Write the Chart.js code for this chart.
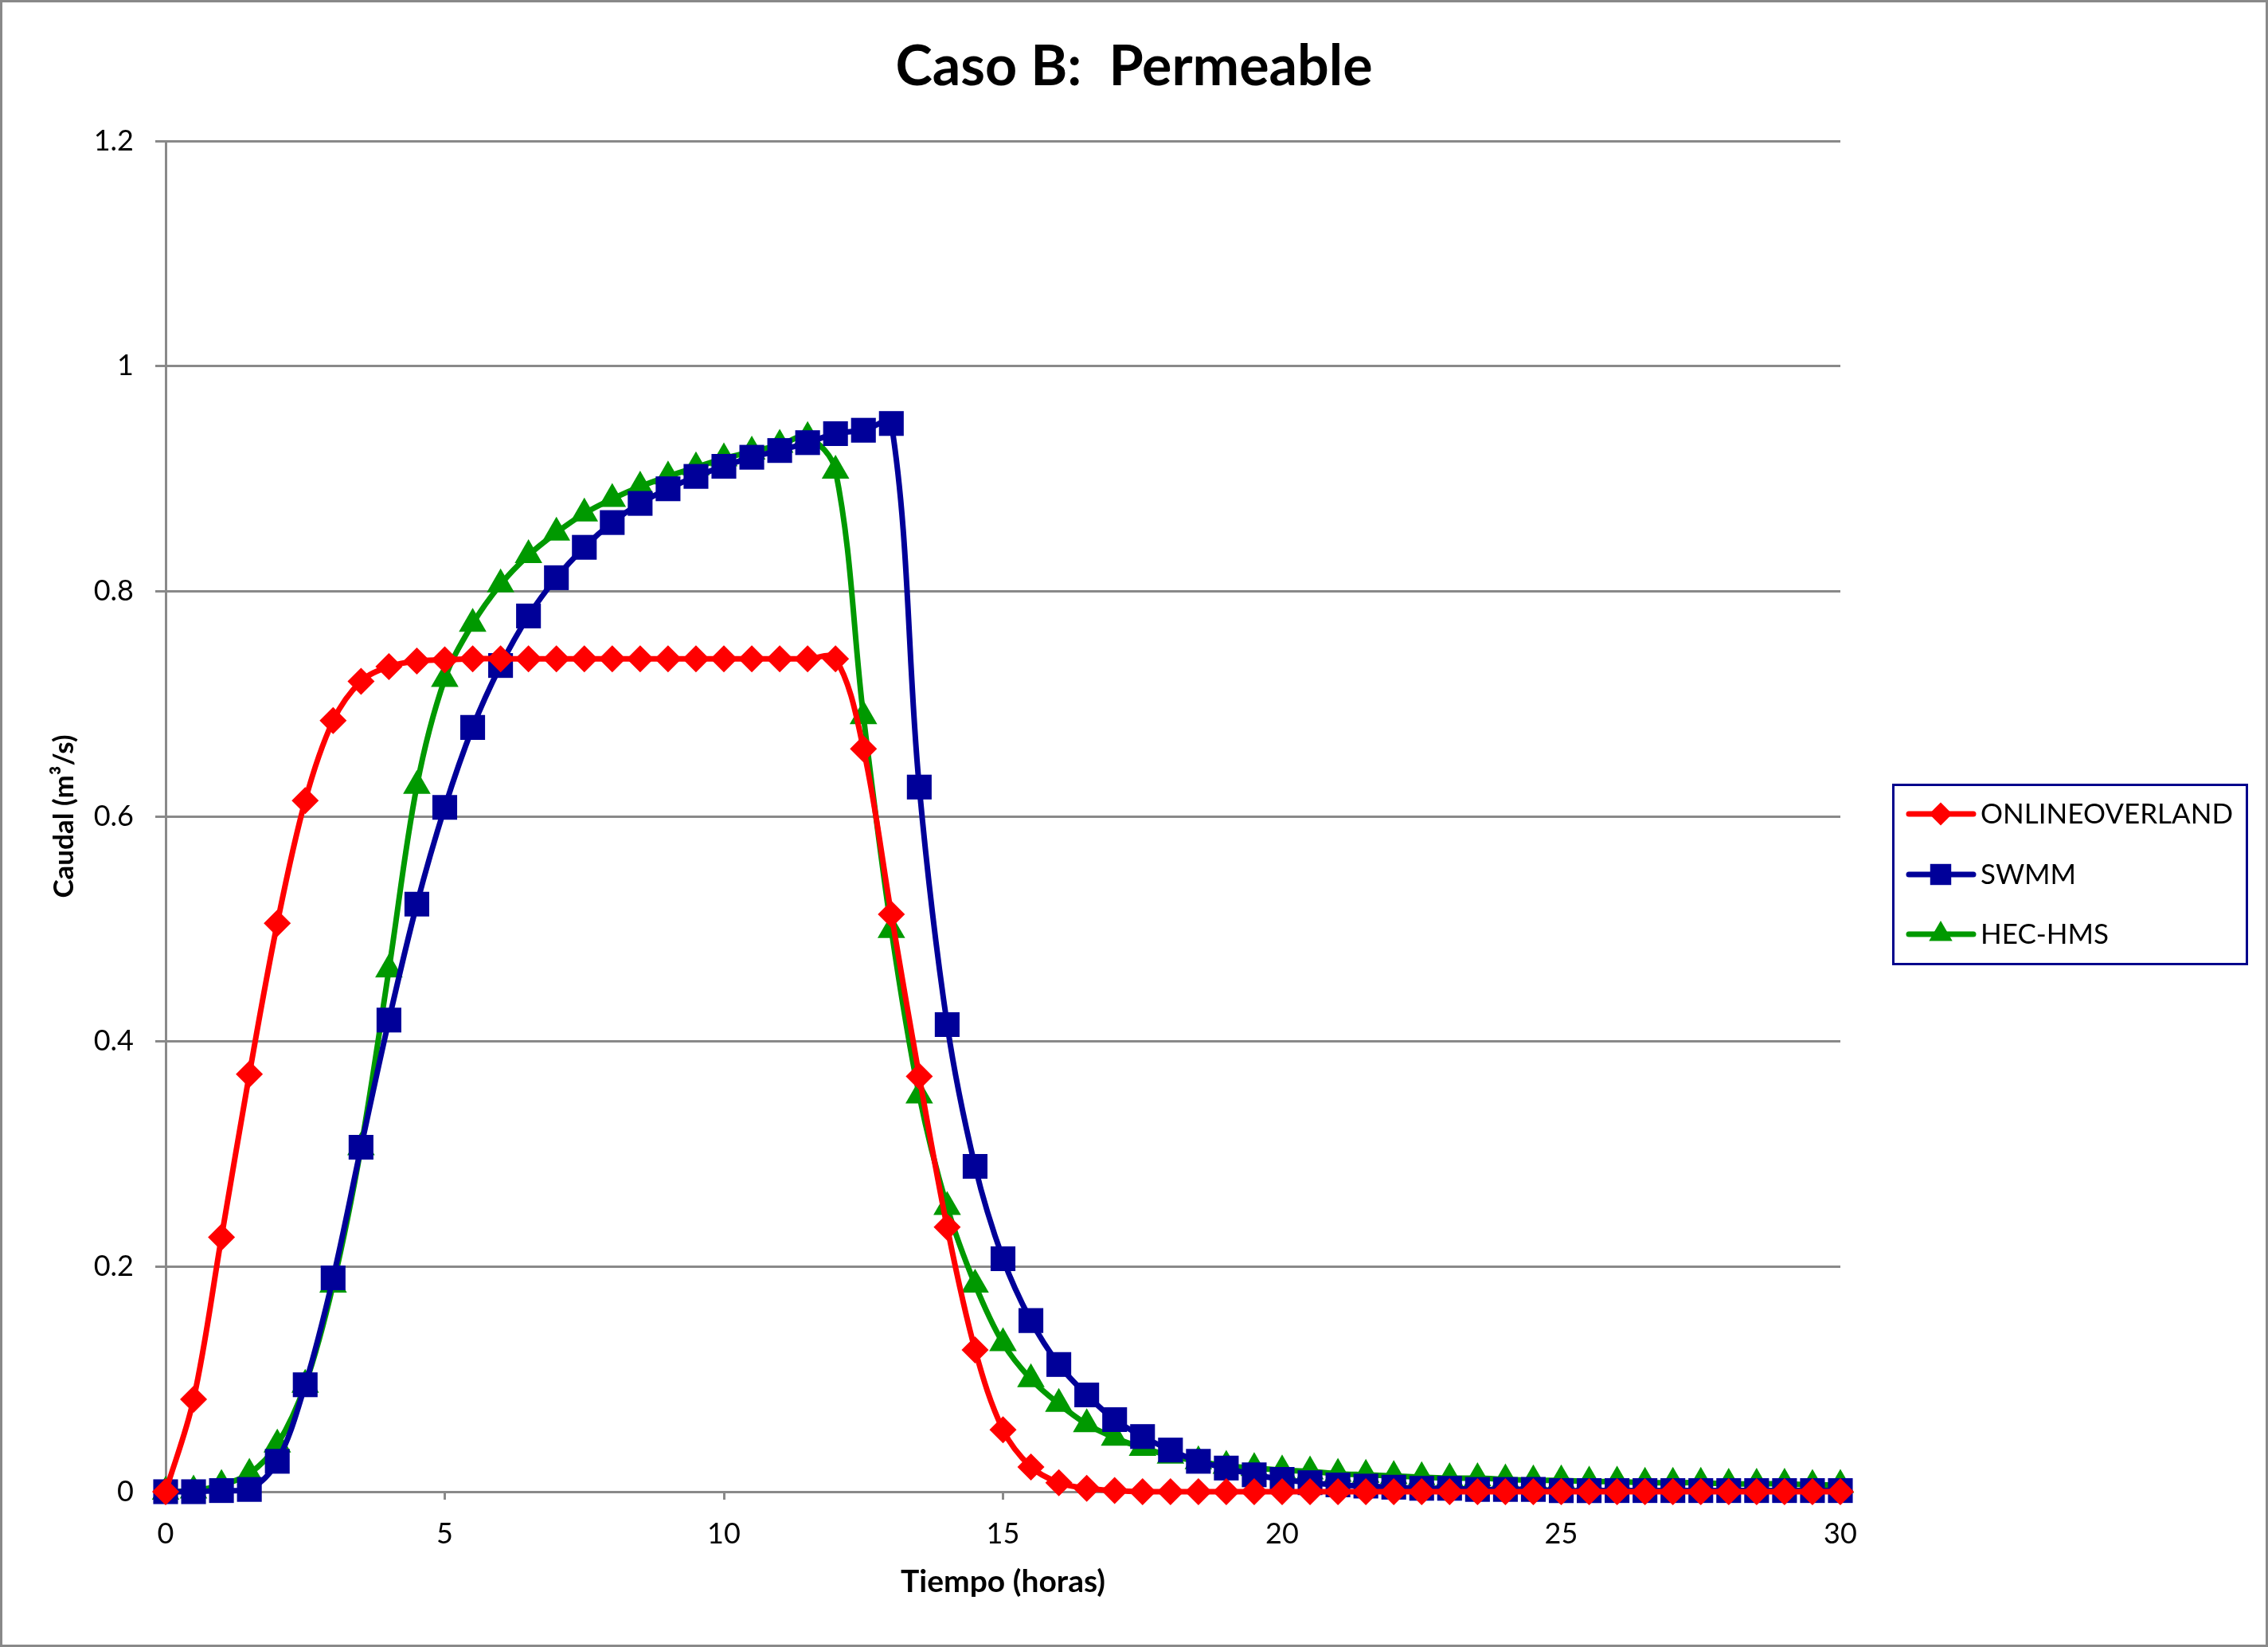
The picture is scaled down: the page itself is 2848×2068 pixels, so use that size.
<!DOCTYPE html>
<html>
<head>
<meta charset="utf-8">
<script src="https://cdn.jsdelivr.net/npm/chart.js@4"></script>
<style>
  html, body { margin: 0; padding: 0; background: #fff; }
  #wrap { width: 2848px; height: 2068px; }
</style>
</head>
<body>
<div id="wrap"><canvas id="caudal" width="2848" height="2068"></canvas></div>
<script>
const titulo = "Caso B:  Permeable";
const horas = [0,0.5,1,1.5,2,2.5,3,3.5,4,4.5,5,5.5,6,6.5,7,7.5,8,8.5,9,9.5,
  10,10.5,11,11.5,12,12.5,13,13.5,14,14.5,15,15.5,16,16.5,17,17.5,18,18.5,19,19.5,
  20,20.5,21,21.5,22,22.5,23,23.5,24,24.5,25,25.5,26,26.5,27,27.5,28,28.5,29,29.5,30];

const onlineOverland = [0,0.082,0.226,0.371,0.505,0.614,0.685,0.72,0.733,0.738,
  0.739,0.74,0.74,0.74,0.74,0.74,0.74,0.74,0.74,0.74,
  0.74,0.74,0.74,0.74,0.74,0.66,0.513,0.369,0.235,0.126,
  0.055,0.022,0.008,0.003,0.001,0,0,0,0,0,
  0,0,0,0,0,0,0,0,0,0,
  0,0,0,0,0,0,0,0,0,0,0];

const swmm = [0,0,0.001,0.002,0.027,0.095,0.19,0.306,0.419,0.522,
  0.608,0.679,0.734,0.778,0.812,0.839,0.861,0.878,0.891,0.902,
  0.911,0.919,0.925,0.932,0.94,0.943,0.949,0.626,0.415,0.289,
  0.207,0.152,0.113,0.086,0.064,0.049,0.037,0.027,0.021,0.015,
  0.011,0.008,0.006,0.005,0.004,0.003,0.003,0.002,0.002,0.002,
  0.001,0.001,0.001,0.001,0.001,0.001,0.001,0.001,0.001,0.001,0.001];

const hecHms = [0,0.001,0.006,0.016,0.042,0.095,0.184,0.306,0.464,0.627,
  0.722,0.771,0.806,0.832,0.852,0.869,0.882,0.893,0.902,0.91,
  0.918,0.924,0.93,0.937,0.907,0.689,0.499,0.352,0.253,0.184,
  0.132,0.1,0.078,0.06,0.048,0.039,0.032,0.027,0.023,0.021,
  0.019,0.018,0.016,0.015,0.014,0.013,0.012,0.012,0.011,0.01,
  0.01,0.009,0.009,0.008,0.008,0.008,0.007,0.007,0.007,0.006,0.006];

const series = ["ONLINEOVERLAND","SWMM","HEC-HMS"];
const colores = ["#ff0000","#000099","#009900"];
const marcas = ["rectRot","rect","triangle"];
const radios = [17,22,20];

const FONT = "Lato, 'Open Sans', sans-serif";
const GRIS = "#898989";

function puntos(valores) {
  return horas.map((h, i) => ({x: h, y: valores[i]}));
}

function serie(i, valores) {
  return {
    label: series[i],
    data: puntos(valores),
    borderColor: colores[i],
    backgroundColor: colores[i],
    borderWidth: 7,
    pointStyle: marcas[i],
    pointRadius: radios[i],
    pointBorderWidth: 0,
    pointBackgroundColor: colores[i],
    tension: 0.35,
    clip: false
  };
}

// titulo, marco exterior y leyenda con recuadro
const extras = {
  id: "extras",
  afterDraw(chart) {
    const ctx = chart.ctx;
    ctx.save();
    ctx.strokeStyle = GRIS;
    ctx.lineWidth = 3;
    ctx.strokeRect(1.5, 1.5, chart.width - 3, chart.height - 3);

    ctx.fillStyle = "#000";
    ctx.font = "bold 70px " + FONT;
    ctx.textAlign = "center";
    ctx.textBaseline = "middle";
    ctx.fillText(titulo, chart.width / 2, 84);

    ctx.strokeStyle = "#00008c";
    ctx.lineWidth = 3;
    ctx.strokeRect(2377.5, 985.5, 444, 225);
    const filas = [1022, 1098, 1173];
    chart.data.datasets.forEach((ds, i) => {
      const y = filas[i];
      ctx.strokeStyle = ds.borderColor;
      ctx.lineWidth = 7;
      ctx.lineCap = "round";
      ctx.beginPath();
      ctx.moveTo(2397, y);
      ctx.lineTo(2478, y);
      ctx.stroke();
      ctx.fillStyle = ds.borderColor;
      Chart.helpers.drawPoint(ctx, {pointStyle: ds.pointStyle, radius: ds.pointRadius * 0.85, rotation: 0, borderWidth: 0}, 2437, y);
      ctx.fillStyle = "#000";
      ctx.font = "35px " + FONT;
      ctx.textAlign = "left";
      ctx.fillText(ds.label, 2487, y + 1);
    });
    ctx.restore();
  }
};

new Chart("caudal", {
  type: "line",
  data: {
    datasets: [serie(0, onlineOverland), serie(1, swmm), serie(2, hecHms)]
  },
  options: {
    responsive: false,
    animation: false,
    layout: { padding: { left: 0, right: 537, top: 177, bottom: 0 } },
    plugins: {
      legend: { display: false },
      title: { display: false },
      tooltip: { enabled: false }
    },
    scales: {
      x: {
        type: "linear",
        min: 0, max: 30,
        afterFit(scale) { scale.height = 195; },
        grid: { drawOnChartArea: false, drawTicks: true, tickLength: 10, color: GRIS, lineWidth: 3 },
        border: { display: true, color: GRIS, width: 3 },
        ticks: { stepSize: 5, padding: 22, color: "#000", font: { family: FONT, size: 36 } },
        title: {
          display: true, text: "Tiempo (horas)", color: "#000",
          font: { family: FONT, size: 39, weight: "bold" },
          padding: { top: 0, bottom: 58 }
        }
      },
      y: {
        min: 0, max: 1.2,
        afterFit(scale) { scale.width = 208; },
        grid: { drawTicks: true, tickLength: 13, color: GRIS, lineWidth: 3 },
        border: { display: true, color: GRIS, width: 3 },
        ticks: {
          stepSize: 0.2, padding: 27, color: "#000",
          font: { family: FONT, size: 36 },
          callback: v => String(Math.round(v * 10) / 10)
        },
        title: {
          display: true, text: "Caudal (m³/s)", color: "#000",
          font: { family: FONT, size: 35, weight: "bold" },
          padding: { top: 60, bottom: 0 }
        }
      }
    }
  },
  plugins: [extras]
});
</script>
</body>
</html>
